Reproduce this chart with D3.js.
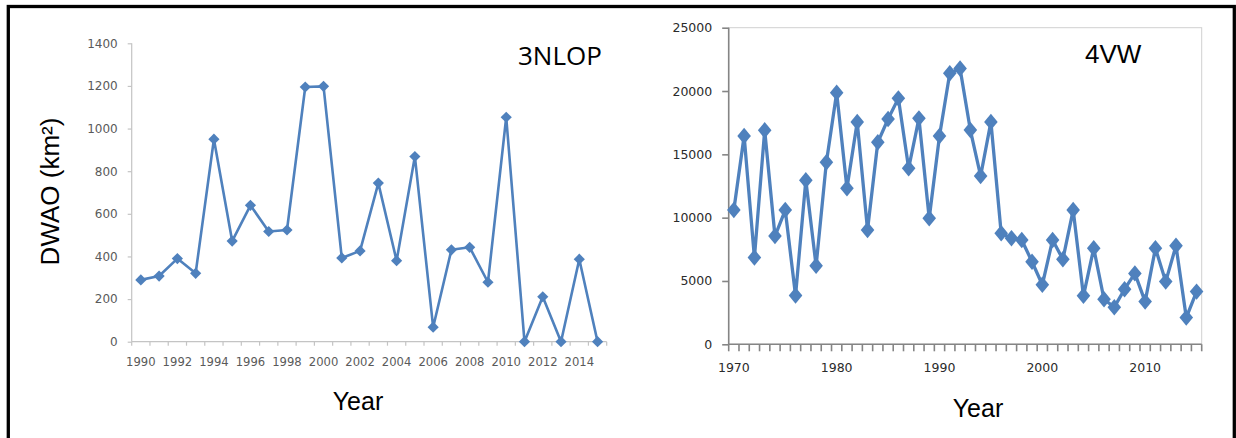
<!DOCTYPE html>
<html><head><meta charset="utf-8">
<script src="https://cdn.jsdelivr.net/npm/d3@7"></script>
<style>html,body{margin:0;padding:0;background:#fff;}svg{display:block;}</style>
</head><body>
<svg id="c" width="1236" height="438"></svg>
<script>
// ---- Data: left panel (3NLOP) ----
const yearsA = [1990,1991,1992,1993,1994,1995,1996,1997,1998,1999,2000,2001,2002,2003,2004,2005,2006,2007,2008,2009,2010,2011,2012,2013,2014,2015];
const valuesA = [290,308,390,321,950,472,640,517,524,1195,1198,393,426,744,380,869,68,431,443,279,1053,0,211,0,387,0];
const yTicksA = [0,200,400,600,800,1000,1200,1400];
const xLabelsA = [1990,1992,1994,1996,1998,2000,2002,2004,2006,2008,2010,2012,2014];
const titleA = "3NLOP";

// ---- Data: right panel (4VW) ----
const yearsB = [1970,1971,1972,1973,1974,1975,1976,1977,1978,1979,1980,1981,1982,1983,1984,1985,1986,1987,1988,1989,1990,1991,1992,1993,1994,1995,1996,1997,1998,1999,2000,2001,2002,2003,2004,2005,2006,2007,2008,2009,2010,2011,2012,2013,2014,2015];
const valuesB = [10600,16450,6850,16900,8550,10600,3850,12950,6200,14380,19870,12320,17550,9030,15950,17790,19420,13900,17840,9950,16450,21400,21780,16920,13290,17560,8770,8380,8240,6520,4700,8240,6710,10600,3830,7580,3560,2930,4350,5600,3370,7580,4950,7780,2110,4160];
const yTicksB = [0,5000,10000,15000,20000,25000];
const xLabelsB = [1970,1980,1990,2000,2010];
const titleB = "4VW";

const xTitle = "Year";
const yTitle = "DWAO (km\u00B2)";

const svg = d3.select("#c");
const blue = "#4f81bd";

// outer frame
svg.append("rect").attr("x",8.3).attr("y",6.5).attr("width",1226).attr("height",520)
  .attr("fill","none").attr("stroke","#000").attr("stroke-width",3.3);

function diamond(hw, hh){
  return {draw(ctx){ ctx.moveTo(0,-hh); ctx.lineTo(hw,0); ctx.lineTo(0,hh); ctx.lineTo(-hw,0); ctx.closePath(); }};
}

function panel(o){
  const g = svg.append("g");
  const x = d3.scaleBand().domain(o.years).range([o.x0,o.x1]).padding(0);
  const y = d3.scaleLinear().domain([0,o.yMax]).range([o.y0,o.y1]);
  const cx = d => x(d) + x.bandwidth()/2;

  if(o.frame){
    g.append("rect").attr("x",o.x0).attr("y",o.y1).attr("width",o.x1-o.x0).attr("height",o.y0-o.y1)
      .attr("fill","none").attr("stroke",o.frame).attr("stroke-width",1);
  }
  // y axis
  const ya = g.append("g").attr("transform",`translate(${o.x0},0)`)
    .call(d3.axisLeft(y).tickValues(o.yTicks).tickSize(o.yTick).tickPadding(o.yPad).tickFormat(d3.format("d")));
  ya.select(".domain").attr("stroke",o.axisColor).attr("stroke-width",o.axisW).attr("d",`M-0,${o.y0}V${o.y1}`);
  ya.selectAll(".tick line").attr("stroke",o.axisColor).attr("stroke-width",o.axisW);
  ya.selectAll(".tick text").attr("fill",o.labelColor).style("font-family","DejaVu Sans").style("font-size",o.yFont+"px");

  // x axis: boundary ticks
  const bounds = o.years.map(d=>x(d)).concat([o.x1]);
  g.append("line").attr("x1",o.x0).attr("x2",o.x1).attr("y1",o.y0).attr("y2",o.y0)
    .attr("stroke",o.axisColor).attr("stroke-width",o.axisW);
  g.selectAll("line.bt").data(bounds).join("line").attr("class","bt")
    .attr("x1",d=>d).attr("x2",d=>d).attr("y1",o.y0).attr("y2",o.y0+o.xTick)
    .attr("stroke",o.axisColor).attr("stroke-width",o.axisW);
  const xa = g.append("g").attr("transform",`translate(0,${o.y0})`)
    .call(d3.axisBottom(x).tickValues(o.xLabels).tickSize(0).tickPadding(o.xPad));
  xa.select(".domain").remove();
  xa.selectAll(".tick text").attr("fill",o.labelColor).style("font-family","DejaVu Sans").style("font-size",o.xFont+"px");

  // line
  const pts = o.years.map((d,i)=>[cx(d), y(o.values[i])]);
  g.append("path").attr("d",d3.line()(pts)).attr("fill","none").attr("stroke",blue)
    .attr("stroke-width",o.lineW).attr("stroke-linejoin","round");
  const sym = d3.symbol().type(diamond(o.mw,o.mh));
  g.selectAll("path.m").data(pts).join("path").attr("class","m")
    .attr("transform",d=>`translate(${d[0]},${d[1]})`).attr("d",sym()).attr("fill",blue);

  g.append("text").attr("x",o.tx).attr("y",o.ty).text(o.title)
    .style("font-family",o.tFont).style("font-size","26px").attr("fill","#000");
  g.append("text").attr("x",o.yrx).attr("y",o.yry).attr("text-anchor","middle").text(xTitle)
    .style("font-family","Liberation Sans").style("font-size","25px").attr("fill","#000");
}

panel({years:yearsA, values:valuesA, yTicks:yTicksA, xLabels:xLabelsA, title:titleA,
  x0:131.7, x1:606.7, y0:341.7, y1:43.3, yMax:1400,
  axisColor:"#c4c4c4", axisW:1.2, labelColor:"#5a5a5a", yTick:4, yPad:10, xTick:4, xPad:16,
  yFont:12, xFont:11.6, lineW:2.6, mw:5.6, mh:5.6,
  tx:518, ty:65, tFont:"Open Sans", yrx:358, yry:410});

panel({years:yearsB, values:valuesB, yTicks:yTicksB, xLabels:xLabelsB, title:titleB,
  x0:728.7, x1:1201.7, y0:344.3, y1:27.7, yMax:25000, frame:"#d0d0d0",
  axisColor:"#858585", axisW:1.6, labelColor:"#2b2b2b", yTick:6.5, yPad:10, xTick:7, xPad:19,
  yFont:12.5, xFont:12.5, lineW:3.3, mw:6.8, mh:8.2,
  tx:1085, ty:63.3, tFont:"Liberation Sans", yrx:978, yry:417});

// y axis title (left panel)
svg.append("text").attr("transform","translate(59,191.5) rotate(-90)").attr("text-anchor","middle")
  .text(yTitle).style("font-family","Liberation Sans").style("font-size","26px").attr("fill","#000");
</script>
</body></html>
